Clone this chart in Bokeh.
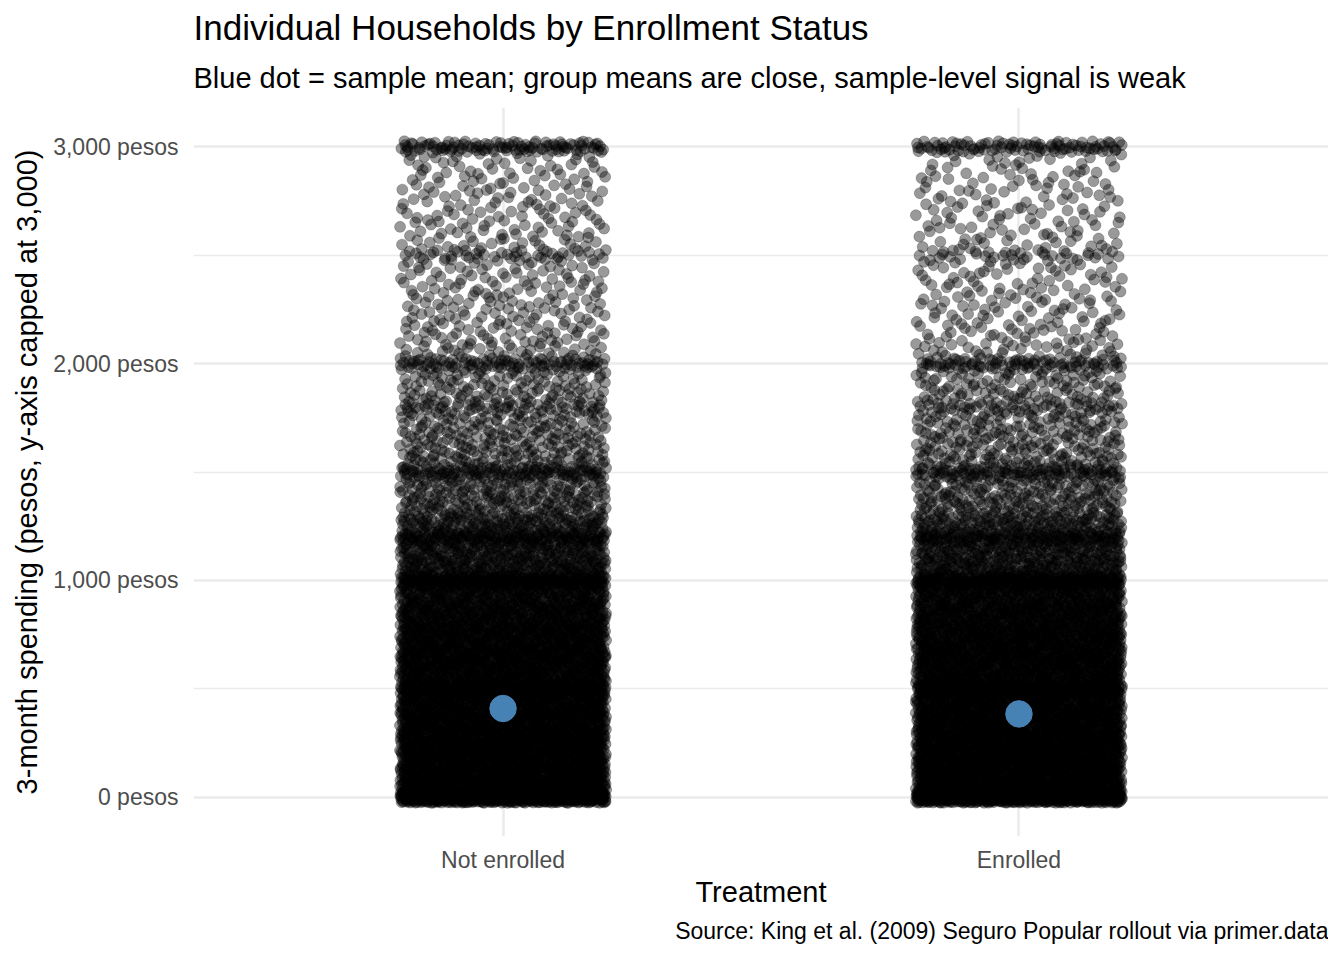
import numpy as np
from bokeh.plotting import figure
from bokeh.models import Range1d, FixedTicker, Title, ColumnDataSource
from bokeh.embed import file_html
from bokeh.resources import INLINE

# ---------------- data ----------------
groups = ["Not enrolled", "Enrolled"]
group_x = [1, 2]

# households per 100-peso band (band start values), estimated from point density
band_start = list(range(0, 3000, 100))
band_width = 100
counts_not_enrolled = [450, 440, 430, 420, 400, 380, 400, 380, 350, 320,
                       260, 240, 200, 140, 125, 110, 100, 90, 82, 75,
                       56, 50, 47, 45, 43, 41, 40, 38, 37, 36]
counts_enrolled = [460, 450, 440, 420, 400, 380, 400, 380, 360, 330,
                   250, 230, 190, 130, 115, 100, 92, 84, 76, 70,
                   48, 42, 39, 37, 35, 34, 33, 32, 31, 29]

# heaping at round amounts (households reporting exactly this amount)
spike_values = [0, 500, 1000, 1200, 1500, 1800, 2000, 2500, 3000]
spikes_not_enrolled = [500, 80, 100, 60, 60, 20, 60, 25, 95]
spikes_enrolled = [500, 80, 110, 55, 55, 18, 55, 20, 85]

# sample means (blue dots)
mean_spending = [410, 385]

y_ticks = [0, 1000, 2000, 3000]
y_minor_ticks = [500, 1500, 2500]
y_tick_labels = ["0 pesos", "1,000 pesos", "2,000 pesos", "3,000 pesos"]

title_text = "Individual Households by Enrollment Status"
subtitle_text = "Blue dot = sample mean; group means are close, sample-level signal is weak"
caption_text = "Source: King et al. (2009) Seguro Popular rollout via primer.data"
x_label = "Treatment"
y_label = "3-month spending (pesos, y-axis capped at 3,000)"

# ---------------- layout of the jittered points ----------------
X_HALF = 0.2        # horizontal jitter half-width (category units)
SPIKE_HALF = 25.0   # vertical spread of heaped values (pesos)


def radical_inverse(idx, base):
    idx = idx.copy()
    f = 1.0
    r = np.zeros(len(idx))
    while np.any(idx > 0):
        f /= base
        r += f * (idx % base)
        idx //= base
    return r


def place(gx, bands, spikes, offset):
    grid = np.arange(-SPIKE_HALF, 3000 + SPIKE_HALF + 0.5, 0.5)
    dens = np.zeros_like(grid)
    for lo, n in zip(band_start, bands):
        dens += np.where((grid >= lo) & (grid < lo + band_width), n / band_width, 0)
    for val, n in zip(spike_values, spikes):
        dens += np.where((grid >= val - SPIKE_HALF) & (grid < val + SPIKE_HALF),
                         n / (2 * SPIKE_HALF), 0)
    cdf = np.concatenate([[0], np.cumsum(dens[:-1] * 0.5)])
    cdf /= cdf[-1]
    total = int(sum(bands) + sum(spikes))
    idx = np.arange(offset, offset + total)
    u = radical_inverse(idx, 2)
    v = radical_inverse(idx, 3)
    return gx + (u - 0.5) * 2 * X_HALF, np.interp(v, cdf, grid)


x1, y1 = place(group_x[0], counts_not_enrolled, spikes_not_enrolled, 1)
x2, y2 = place(group_x[1], counts_enrolled, spikes_enrolled, 40001)
pts = ColumnDataSource(dict(x=np.concatenate([x1, x2]), y=np.concatenate([y1, y2])))
means = ColumnDataSource(dict(x=group_x, y=mean_spending))

FONT = "Liberation Sans"

p = figure(title=None, frame_width=1135, frame_height=729,
           x_range=Range1d(0.4, 2.6), y_range=Range1d(-180, 3180),
           output_backend="svg", toolbar_location=None,
           min_border_left=193, min_border_right=0,
           min_border_top=107, min_border_bottom=108,
           background_fill_color="white", border_fill_color="white")
p.outline_line_color = None

# titles (first added sits nearest the frame)
p.add_layout(Title(text=subtitle_text, text_font=FONT, text_font_size="29px",
                   text_font_style="normal", text_color="black", align="left",
                   standoff=27), "above")
p.add_layout(Title(text=title_text, text_font=FONT, text_font_size="35px",
                   text_font_style="normal", text_color="black", align="left",
                   standoff=0), "above")

# axes
p.yaxis.ticker = FixedTicker(ticks=y_ticks, minor_ticks=y_minor_ticks)
p.yaxis.major_label_overrides = {t: l for t, l in zip(y_ticks, y_tick_labels)}
p.xaxis.ticker = FixedTicker(ticks=group_x, minor_ticks=[])
p.xaxis.major_label_overrides = {x: g for x, g in zip(group_x, groups)}
for ax in (p.xaxis, p.yaxis):
    ax.axis_line_color = None
    ax.major_tick_line_color = None
    ax.minor_tick_line_color = None
    ax.major_tick_out = 0
    ax.major_tick_in = 0
    ax.minor_tick_out = 0
    ax.minor_tick_in = 0
    ax.major_label_text_font = FONT
    ax.major_label_text_font_size = "23px"
    ax.major_label_text_color = "#4D4D4D"
    ax.axis_label_text_font = FONT
    ax.axis_label_text_font_size = "29px"
    ax.axis_label_text_font_style = "normal"
    ax.axis_label_text_color = "black"
p.yaxis.axis_label = y_label
p.xaxis.axis_label = x_label
p.yaxis.major_label_standoff = 15
p.yaxis.axis_label_standoff = 7
p.xaxis.major_label_standoff = 10
p.xaxis.axis_label_standoff = 0

p.add_layout(Title(text=caption_text, text_font=FONT, text_font_size="23px",
                   text_font_style="normal", text_color="black", align="right",
                   standoff=10), "below")

# grid
p.ygrid.grid_line_color = "#EBEBEB"
p.ygrid.grid_line_width = 2.6
p.ygrid.minor_grid_line_color = "#EBEBEB"
p.ygrid.minor_grid_line_width = 1.3
p.xgrid.grid_line_color = "#EBEBEB"
p.xgrid.grid_line_width = 2.6

p.scatter("x", "y", source=pts, size=11, marker="circle",
          fill_color="black", fill_alpha=0.4,
          line_color="black", line_alpha=0.4, line_width=0.6)
p.scatter("x", "y", source=means, size=26.5, marker="circle",
          fill_color="#4682B4", line_color="#4682B4")

open("out.html", "w").write(file_html(p, INLINE))
